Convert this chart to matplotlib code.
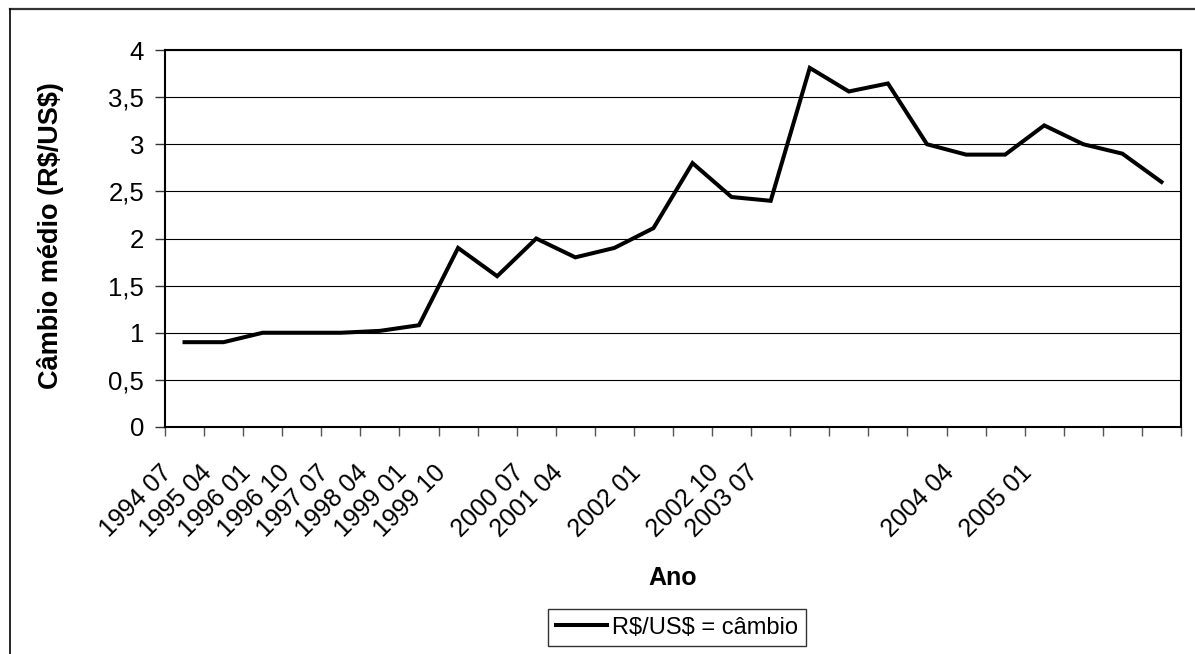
import matplotlib
matplotlib.use("Agg")
import matplotlib.pyplot as plt
from matplotlib.lines import Line2D
from matplotlib.transforms import blended_transform_factory, ScaledTranslation

plt.rcParams['font.family'] = ['Liberation Sans', 'DejaVu Sans']

categories = ["1994 07", "1995 04", "1996 01", "1996 10", "1997 07", "1998 04",
              "1999 01", "1999 10", "", "2000 07", "2001 04", "", "2002 01", "",
              "2002 10", "2003 07", "", "", "", "", "2004 04", "", "2005 01",
              "", "", ""]
values = [0.90, 0.90, 1.00, 1.00, 1.00, 1.02, 1.08, 1.90, 1.60, 2.00, 1.80, 1.90,
          2.11, 2.80, 2.44, 2.40, 3.81, 3.56, 3.645, 3.00, 2.89, 2.89, 3.20, 3.00,
          2.90, 2.60]
y_ticks = [0, 0.5, 1, 1.5, 2, 2.5, 3, 3.5, 4]
y_ticklabels = ["0", "0,5", "1", "1,5", "2", "2,5", "3", "3,5", "4"]
series_name = r"R\$/US\$ = câmbio"
y_title = r"Câmbio médio (R\$/US\$)"
x_title = "Ano"

W, H = 1195, 654
fig = plt.figure(figsize=(W / 100, H / 100), dpi=100)
left, right, top, bottom = 165, 1181, 50, 427
ax = fig.add_axes([left / W, 1 - bottom / H, (right - left) / W, (bottom - top) / H])

x = list(range(len(values)))
line, = ax.plot(x, values, color='black', lw=2.9, solid_joinstyle='miter',
                label=series_name, zorder=3)

ax.set_xlim(-0.5, len(values) - 0.5)
ax.set_ylim(0, 4)
ax.set_yticks(y_ticks)
ax.set_yticklabels(y_ticklabels, fontsize=18.5)
ax.yaxis.grid(True, color='black', lw=0.8)
ax.set_axisbelow(True)

# category boundaries as tick marks
ax.set_xticks([i - 0.5 for i in range(len(values) + 1)])
ax.set_xticklabels([])
ax.tick_params(axis='x', which='major', length=6.5, width=1, color='#555555',
               direction='out')
ax.tick_params(axis='y', which='major', length=7, width=1, color='#333333',
               pad=8)

# category labels, rotated, at category centres
lab_trans = blended_transform_factory(ax.transData, ax.transAxes) + \
    ScaledTranslation(-0.16, -0.42, fig.dpi_scale_trans)
for xi, lab in zip(x, categories):
    if lab:
        ax.text(xi, 0, lab, transform=lab_trans, rotation=45, ha='right',
                va='center', rotation_mode='anchor', fontsize=18, clip_on=False)

for s in ax.spines.values():
    s.set_linewidth(1.5)
    s.set_color('black')

fig.text(51 / W, 1 - 236 / H, y_title, rotation=90,
         fontsize=19.5, fontweight='bold', ha='center', va='center')
fig.text(673 / W, 1 - 578 / H, x_title, fontsize=18, fontweight='bold',
         ha='center', va='center')

leg = fig.legend(handles=[line], loc='center',
                 bbox_to_anchor=(677 / W, 1 - 627.5 / H), fontsize=17,
                 frameon=True, fancybox=False, edgecolor='black',
                 handlelength=2.16, handletextpad=0.21, borderpad=0.33,
                 borderaxespad=0)
leg.get_frame().set_linewidth(1.0)

# outer chart border (only top and left visible)
fig.add_artist(Line2D([10 / W, 1], [1 - 9 / H, 1 - 9 / H], transform=fig.transFigure,
                      color='#333333', lw=1.6))
fig.add_artist(Line2D([10 / W, 10 / W], [1 - 9 / H, 0], transform=fig.transFigure,
                      color='black', lw=1.2))

fig.savefig("out.png", dpi=100)
